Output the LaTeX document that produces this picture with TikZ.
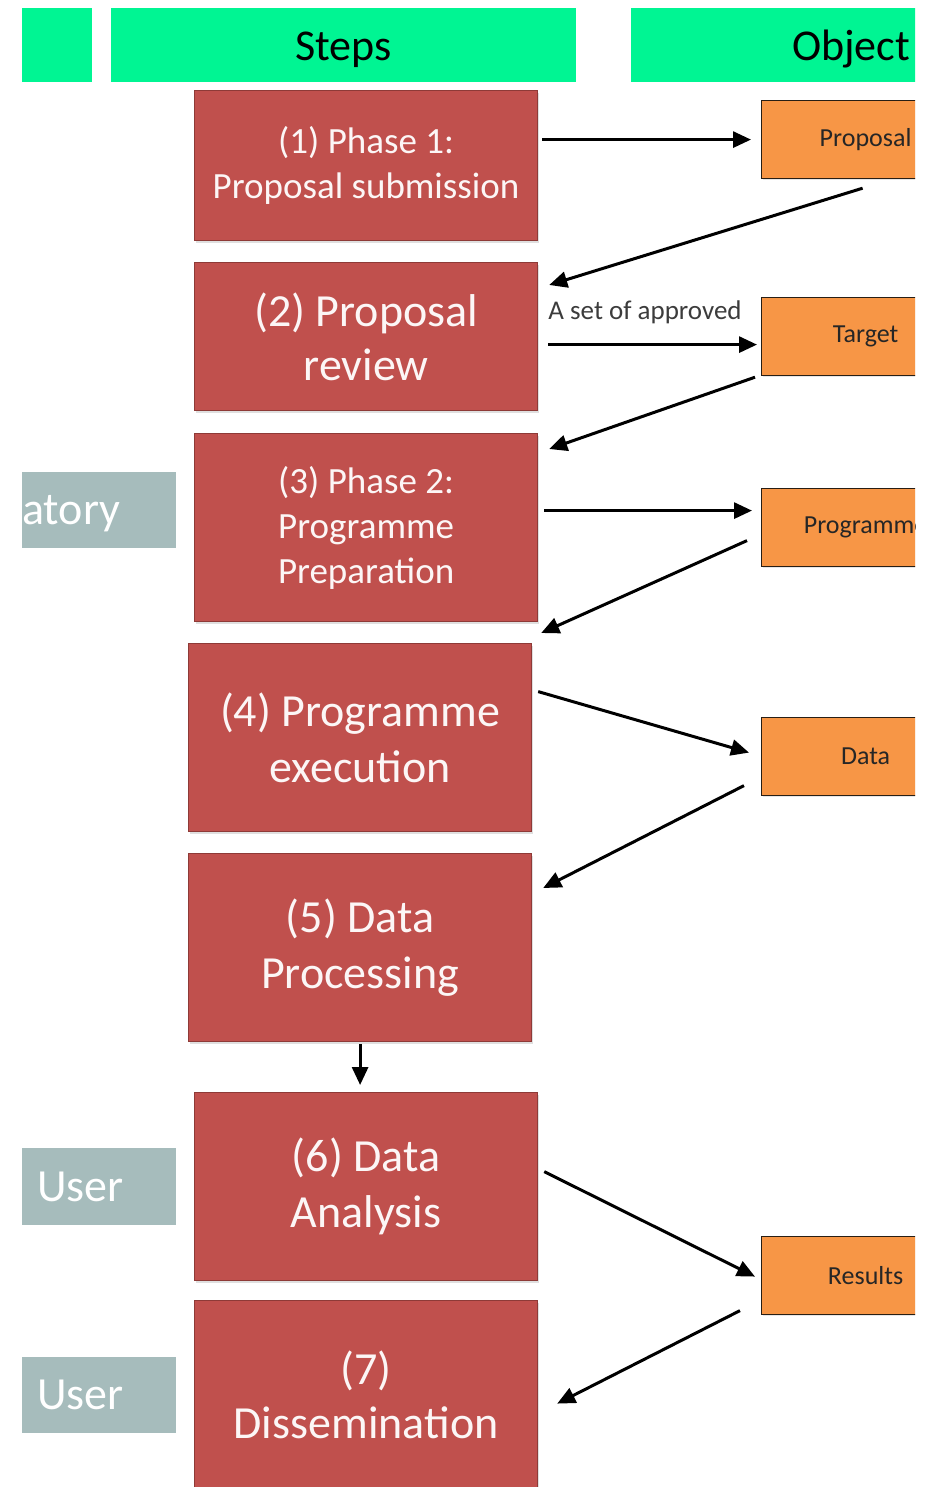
\documentclass[tikz,border=0pt]{standalone}
\usepackage{fontspec}
\setmainfont{Carlito}
\usetikzlibrary{arrows.meta,calc,shadows}

\definecolor{hdrgreen}{RGB}{0,245,147}
\definecolor{stepred}{RGB}{192,80,77}
\definecolor{stepedge}{RGB}{142,58,55}
\definecolor{objorange}{RGB}{247,150,70}
\definecolor{objedge}{RGB}{40,30,20}
\definecolor{rolegray}{RGB}{166,188,188}
\definecolor{softwhite}{RGB}{252,246,246}
\definecolor{labelgray}{RGB}{60,60,60}

\begin{document}
\begin{tikzpicture}[x=1pt,y=-1pt,
  header/.style={fill=hdrgreen, draw=none, anchor=north west, inner sep=0pt,
    minimum height=74pt, text height=32pt, text depth=2pt, text=black,
    font=\fontsize{44}{48}\selectfont},
  stepbox/.style={fill=stepred, draw=stepedge, line width=1.2pt, anchor=north west,
    inner sep=0pt, minimum width=343pt, text=softwhite, align=center,
    drop shadow={opacity=0.25, shadow xshift=1.5pt, shadow yshift=-2pt}},
  objbox/.style={fill=objorange, draw=objedge, line width=1.2pt, anchor=north west,
    inner sep=0pt, minimum width=208pt, minimum height=78pt, text=black!85,
    font=\fontsize{26}{30}\selectfont,
    drop shadow={opacity=0.2, shadow xshift=1pt, shadow yshift=-1.5pt}},
  rolebox/.style={fill=rolegray, draw=none, anchor=north west, inner ysep=0pt,
    align=left, text=white, font=\fontsize{46}{50}\selectfont},
  flow/.style={line width=3pt, draw=black, -{Triangle[length=18pt,width=16pt]}},
]
\useasboundingbox (0,0) rectangle (929,1487);
\begin{scope}
\clip (22,0) rectangle (915,1487);

% column headers
\node[header, minimum width=170pt] (hroles) at (-78,8) {};
\node[header, minimum width=465pt] (hsteps) at (111,8) {Steps};
\node[header, minimum width=440pt] (hobjs) at (631,8) {Object};

% role tags on the left
\node[rolebox, inner xsep=0pt, text width=154pt, minimum height=76pt,
  text height=31pt, text depth=2pt] (r1) at (22,472) {atory};
\node[rolebox, inner xsep=15pt, text width=124pt, minimum height=77pt] (r2) at (22,1148) {User};
\node[rolebox, inner xsep=15pt, text width=124pt, minimum height=76pt] (r3) at (22,1357) {User};

% workflow steps
\node[stepbox, minimum height=150pt, font=\fontsize{37}{45}\selectfont] (s1) at (194,90)
  {(1) Phase 1:\\Proposal submission};
\node[stepbox, minimum height=148pt, font=\fontsize{46}{54}\selectfont] (s2) at (194,262)
  {(2) Proposal\\review};
\node[stepbox, minimum height=188pt, font=\fontsize{37}{45}\selectfont] (s3) at (194,433)
  {(3) Phase 2:\\Programme\\Preparation};
\node[stepbox, minimum height=188pt, font=\fontsize{46}{56}\selectfont] (s4) at (188,643)
  {(4) Programme\\execution};
\node[stepbox, minimum height=188pt, font=\fontsize{46}{56}\selectfont] (s5) at (188,853)
  {(5) Data\\Processing};
\node[stepbox, minimum height=188pt, font=\fontsize{46}{56}\selectfont] (s6) at (194,1092)
  {(6) Data\\Analysis};
\node[stepbox, minimum height=188pt, font=\fontsize{46}{54}\selectfont] (s7) at (194,1300)
  {(7)\\Dissemination};

% objects produced and consumed
\node[objbox] (o1) at (761,100) {Proposal};
\node[objbox] (o2) at (761,297) {Target};
\node[objbox] (o3) at (761,488) {Programme};
\node[objbox] (o4) at (761,717) {Data};
\node[objbox] (o5) at (761,1236) {Results};

% flow between steps and objects
\draw[flow] ($(s1.east |- o1.west)+(4,0)$) -- ($(o1.west)+(-10,0)$);
\draw[flow] ($(o1.south)+(-3,9)$) -- ($(s2.north east)+(11,23)$);
\draw[flow] ($(s2.east)+(10,8)$) -- ($(o2.west)+(-4,8)$);
\node[anchor=west, inner sep=0pt, text=labelgray, font=\fontsize{27}{30}\selectfont]
  (lbl) at ($(s2.east)+(10,-24)$) {A set of approved};
\draw[flow] ($(o2.south west)+(-6,1)$) -- ($(s3.north east)+(11,16)$);
\draw[flow] ($(s3.east)+(6,-17)$) -- ($(o3.west)+(-9,-17)$);
\draw[flow] ($(o3.west)+(-14,13)$) -- ($(s4.north east)+(9,-10)$);
\draw[flow] ($(s4.east)+(6,-46)$) -- ($(o4.west)+(-12,-4)$);
\draw[flow] ($(o4.west)+(-17,29)$) -- ($(s5.north east)+(11,35)$);
\draw[flow] ($(s5.south)+(0,2)$) -- ($(s5.south |- s6.north)+(0,-7)$);
\draw[flow] ($(s6.east)+(6,-15)$) -- ($(o5.west)+(-6,1)$);
\draw[flow] ($(o5.west)+(-21,35)$) -- ($(s7.east)+(19,9)$);
\end{scope}
\end{tikzpicture}
\end{document}
